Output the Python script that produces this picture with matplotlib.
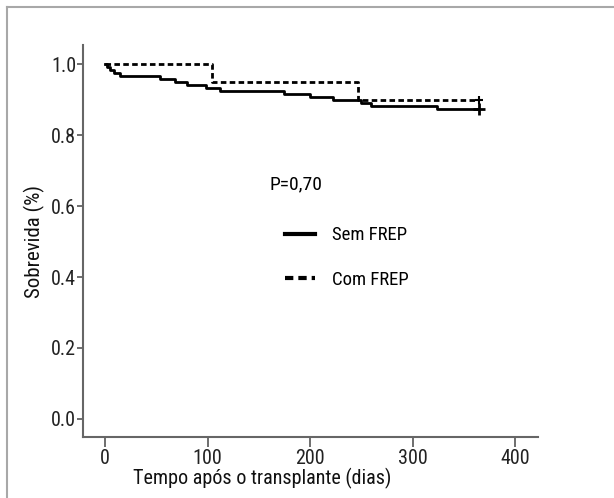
import matplotlib
matplotlib.use('Agg')
import matplotlib.pyplot as plt
from matplotlib.lines import Line2D

plt.rcParams['font.family'] = ['Roboto Condensed', 'Liberation Sans Narrow', 'DejaVu Sans']

# Kaplan-Meier curves (tempo em dias, sobrevida)
sem_t = [0, 2, 5, 9, 15, 54, 68, 80, 98, 112, 174, 200, 222, 250, 259, 324, 365]
sem_s = [1.0, 0.992, 0.983, 0.975, 0.966, 0.958, 0.949, 0.941, 0.932, 0.924,
         0.915, 0.907, 0.898, 0.890, 0.881, 0.873, 0.873]
com_t = [0, 104, 247, 365]
com_s = [1.0, 0.95, 0.90, 0.90]

xticks = [0, 100, 200, 300, 400]
yticks = [0.0, 0.2, 0.4, 0.6, 0.8, 1.0]
p_text = 'P=0,70'

fig = plt.figure(figsize=(6.14, 4.98), dpi=100)
ax = fig.add_axes([0.1352, 0.1225, 0.7408, 0.7871])

# moldura cinza da figura
fig.add_artist(Line2D([0.0114, 0.0114], [0, 0.986], color='#a8a8a8', lw=1.5))
fig.add_artist(Line2D([0.0114, 1.0], [0.986, 0.986], color='#a8a8a8', lw=1.5))

ax.step(sem_t, sem_s, where='post', color='black', lw=2, label='Sem FREP')
ax.step(com_t, com_s, where='post', color='black', lw=2, ls=(0, (2, 1.2)), label='Com FREP')
ax.plot(sem_t[-1], sem_s[-1], marker='+', color='black', ms=9, mew=2)
ax.plot(com_t[-1], com_s[-1], marker='+', color='black', ms=6, mew=1.5)

ax.set_xlim(-21.5, 422)
ax.set_ylim(-0.051, 1.054)
ax.set_xticks(xticks)
ax.set_yticks(yticks)
ax.set_xticklabels([str(v) for v in xticks])
ax.set_yticklabels(['%.1f' % v for v in yticks])

for side in ['top', 'right']:
    ax.spines[side].set_visible(False)
for side in ['left', 'bottom']:
    ax.spines[side].set_color('#666666')
    ax.spines[side].set_linewidth(1.5)
ax.tick_params(axis='y', length=4, width=1.2, color='#555555', pad=1, labelsize=14.5, labelcolor='#222222')
ax.tick_params(axis='x', length=7, width=1.2, color='#555555', pad=2, labelsize=14.5, labelcolor='#222222')

ax.set_xlabel('Tempo após o transplante (dias)', fontsize=14.5, color='#111111')
ax.xaxis.set_label_coords(0.394, -0.079)
ax.set_ylabel('Sobrevida (%)', fontsize=15, color='#111111', labelpad=4)

ax.text(0.411, 0.645, p_text, transform=ax.transAxes, fontsize=14, va='center', ha='left')
leg = ax.legend(loc='center left', bbox_to_anchor=(0.444, 0.458), frameon=False, fontsize=13.5,
                handlelength=1.6, handletextpad=0.9, labelspacing=1.4, borderpad=0, borderaxespad=0)
for h in leg.get_lines():
    h.set_linewidth(3)

fig.savefig('out.png', dpi=100)
